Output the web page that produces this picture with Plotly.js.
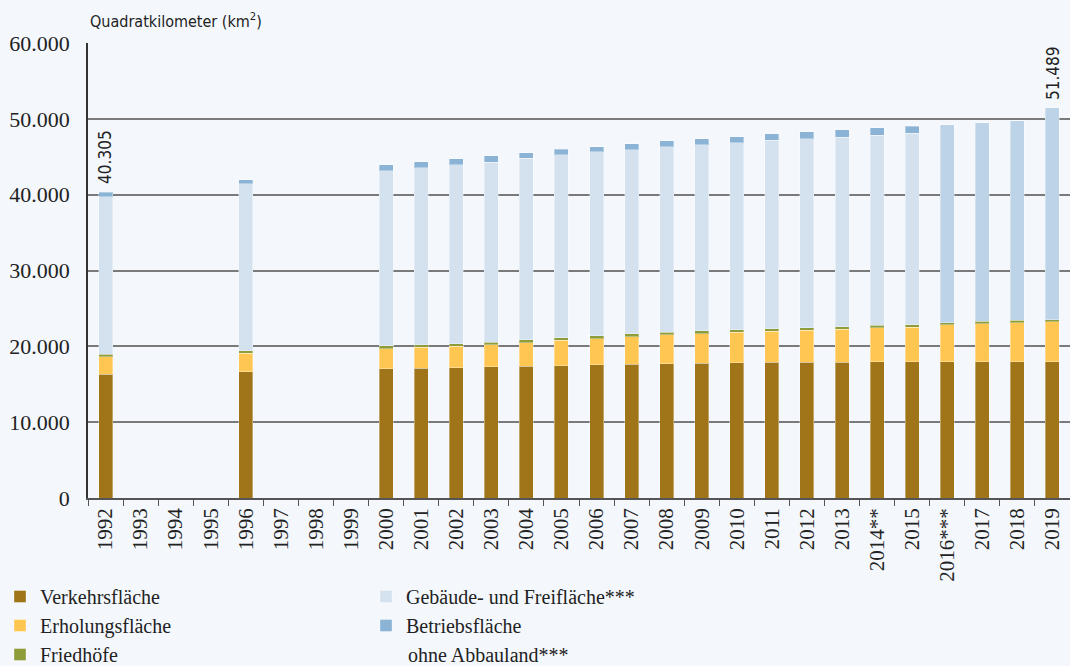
<!DOCTYPE html>
<html>
<head>
<meta charset="utf-8">
<script src="https://cdn.plot.ly/plotly-3.0.1.min.js"></script>
<style>
  html, body { margin: 0; padding: 0; background: #F4F8FD; }
  #chart { width: 1070px; height: 666px; }
</style>
</head>
<body>
<div id="chart"></div>
<script>
const years = ['1992', '1993', '1994', '1995', '1996', '1997', '1998', '1999',
    '2000', '2001', '2002', '2003', '2004', '2005', '2006', '2007', '2008', '2009',
    '2010', '2011', '2012', '2013', '2014**', '2015', '2016***', '2017', '2018', '2019']

// km² (null = no survey that year)
const verkehr = [16320, null, null, null, 16660, null, null, null,
    17020, 17110, 17150, 17280, 17350, 17410, 17550, 17640, 17720, 17770,
    17850, 17870, 17900, 17930, 17980, 18000, 17950, 17970, 17990, 18000]
const erholung = [2320, null, null, null, 2430, null, null, null,
    2680, 2770, 2860, 2940, 3140, 3360, 3470, 3640, 3785, 3905,
    4010, 4120, 4200, 4330, 4440, 4520, 4870, 5020, 5140, 5230]
const friedhoefe = [320, null, null, null, 300, null, null, null,
    350, 330, 330, 350, 350, 330, 350, 350, 330, 350,
    330, 330, 350, 330, 350, 330, 300, 320, 320, 280]
const gebaeude = [20790, null, null, null, 22070, null, null, null,
    23090, 23330, 23630, 23720, 23980, 24150, 24280, 24320, 24470, 24550,
    24640, 24870, 24910, 25000, 25090, 25280, 26090, 26160, 26290, 27979]
const betrieb = [555, null, null, null, 490, null, null, null,
    790, 790, 790, 830, 740, 745, 700, 750, 790, 790,
    790, 870, 965, 1000, 950, 910, null, null, null, null]

const labelYears = ['1992', '2019']

const serif = 'Liberation Serif, DejaVu Serif, serif'
const narrow = 'Liberation Sans Narrow, DejaVu Sans Condensed, Roboto, sans-serif'
const bg = '#F4F8FD'

const firstNew = years.indexOf('2016***')
const totals = years.map((y, i) =>
    [verkehr, erholung, friedhoefe, gebaeude, betrieb].reduce((s, a) => s + (a[i] || 0), 0))

const fmt = (n) => String(n).replace(/\B(?=(\d{3})+(?!\d))/g, '.')

const barLine = { width: 1, color: 'rgba(255,255,255,0.35)' }

const mk = (name, y, color, rank) => ({
    type: 'bar',
    x: years,
    y,
    name,
    legendrank: rank,
    marker: { color, line: barLine },
    hoverinfo: 'x+y+name',
})

let data = [
    mk('Verkehrsfläche', verkehr, '#A0751A', 1),
    mk('Erholungsfläche', erholung, '#FFC752', 3),
    mk('Friedhöfe', friedhoefe, '#8E9C3A', 5),
    mk('Gebäude- und Freifläche***', gebaeude,
        years.map((y, i) => i >= firstNew ? '#BDD3E7' : '#D4E1EE'), 2),
    mk('Betriebsfläche', betrieb, '#8BB3D5', 4),
]

// category index keeps the year strings from being read as numbers
let annotations = labelYears.map(y => ({
    x: years.indexOf(y),
    y: totals[years.indexOf(y)],
    xref: 'x',
    yref: 'y',
    text: fmt(totals[years.indexOf(y)]),
    textangle: -90,
    showarrow: false,
    xanchor: 'center',
    yanchor: 'bottom',
    yshift: 6,
    font: { family: narrow, size: 17, color: '#222' },
}))

annotations.push({
    xref: 'paper', yref: 'paper',
    x: 0, y: 1,
    xanchor: 'left', yanchor: 'bottom',
    yshift: 10,
    text: 'Quadratkilometer (km<sup>2</sup>)',
    showarrow: false,
    font: { family: narrow, size: 16, color: '#222' },
})

annotations.push({
    xref: 'paper', yref: 'paper',
    x: (406 - 88) / 982, y: (498 - 655) / 455,
    xanchor: 'left', yanchor: 'middle',
    text: 'ohne Abbauland***',
    showarrow: false,
    font: { family: serif, size: 20, color: '#222' },
})

let layout = {
    width: 1070,
    height: 666,
    paper_bgcolor: bg,
    plot_bgcolor: bg,
    separators: ',.',
    barmode: 'stack',
    bargap: 0.6,
    margin: { l: 88, r: 0, t: 43, b: 168 },
    font: { family: serif, color: '#222' },
    xaxis: {
        type: 'category',
        range: [-0.5, years.length - 0.5],
        autorange: false,
        showline: true,
        linecolor: '#555',
        linewidth: 1.5,
        ticks: 'outside',
        tickson: 'boundaries',
        ticklen: 6,
        tickcolor: '#555',
        tickangle: -90,
        tickfont: { family: serif, size: 21, color: '#222' },
        showgrid: false,
    },
    yaxis: {
        range: [0, 60000],
        dtick: 10000,
        tickformat: ',d',
        showline: true,
        linecolor: '#333',
        linewidth: 1.5,
        gridcolor: '#7a7a7a',
        gridwidth: 1.5,
        zeroline: false,
        ticks: '',
        ticklabelstandoff: 12,
        tickfont: { family: serif, size: 22, color: '#222' },
    },
    showlegend: true,
    legend: {
        orientation: 'h',
        xref: 'container',
        yref: 'container',
        x: 0,
        y: (666 - 577) / 666,
        xanchor: 'left',
        yanchor: 'top',
        entrywidth: 321,
        entrywidthmode: 'pixels',
        traceorder: 'normal',
        bgcolor: 'rgba(0,0,0,0)',
        font: { family: serif, size: 20, color: '#222' },
    },
    annotations,
}

Plotly.newPlot('chart', data, layout, { displayModeBar: false })
</script>
</body>
</html>
